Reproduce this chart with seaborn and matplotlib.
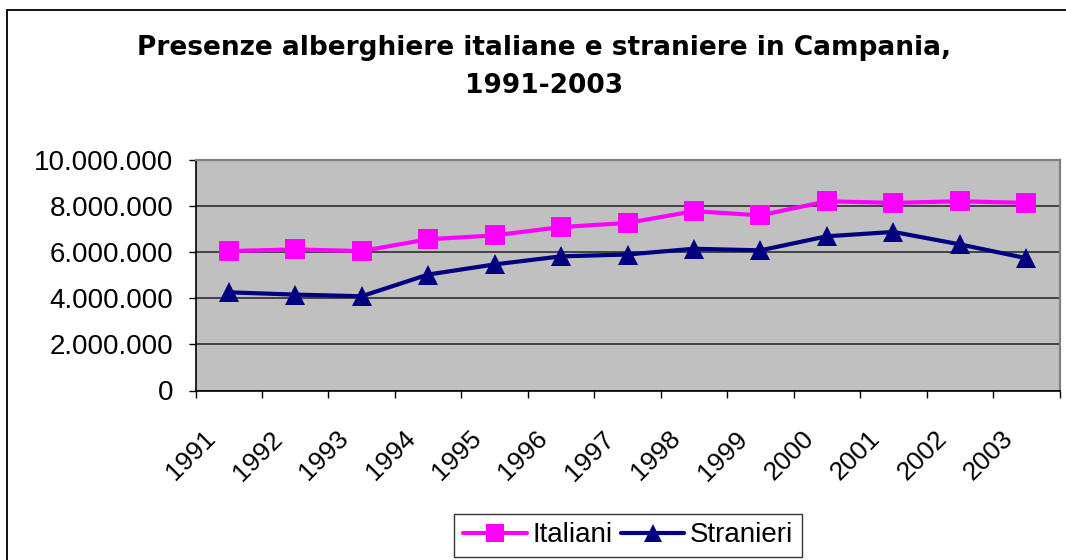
import numpy as np
import pandas as pd
import matplotlib
matplotlib.use("Agg")
import matplotlib.pyplot as plt
import seaborn as sns
from matplotlib.ticker import FuncFormatter, FixedLocator, NullFormatter
from matplotlib.transforms import ScaledTranslation
from matplotlib.lines import Line2D
import matplotlib.patches as mpatches

years = ["1991", "1992", "1993", "1994", "1995", "1996", "1997",
         "1998", "1999", "2000", "2001", "2002", "2003"]
italiani = [6050000, 6120000, 6050000, 6560000, 6730000, 7090000, 7270000,
            7780000, 7600000, 8210000, 8140000, 8210000, 8140000]
stranieri = [4260000, 4160000, 4090000, 5030000, 5470000, 5820000, 5900000,
             6150000, 6080000, 6690000, 6880000, 6340000, 5740000]
series_names = ["Italiani", "Stranieri"]
colors = {"Italiani": "#FF00FF", "Stranieri": "#000080"}
markers = {"Italiani": "s", "Stranieri": "^"}
yticks = [0, 2000000, 4000000, 6000000, 8000000, 10000000]
title = "Presenze alberghiere italiane e straniere in Campania,\n1991-2003"

sns.set_theme(style="white")
plt.rcParams["font.family"] = ["Liberation Sans", "DejaVu Sans"]
plt.rcParams["text.color"] = "black"
plt.rcParams["xtick.color"] = "black"
plt.rcParams["ytick.color"] = "black"
plt.rcParams["xtick.labelcolor"] = "black"
plt.rcParams["ytick.labelcolor"] = "black"

W, H = 1066, 560
fig = plt.figure(figsize=(W / 100, H / 100), dpi=100)
fig.patch.set_facecolor("white")

# outer chart border
fig.add_artist(mpatches.Rectangle((7 / W, -0.05), 1.1, 1 - 10 / H + 0.05,
                                  transform=fig.transFigure, fill=False,
                                  edgecolor="black", lw=1.3))

left, right, top, bottom = 195.5, 1059.5, 160, 390.5
ax = fig.add_axes([left / W, 1 - bottom / H, (right - left) / W, (bottom - top) / H])
ax.set_facecolor("#C0C0C0")

n = len(years)
df = pd.DataFrame({
    "pos": list(range(n)) * 2,
    "value": italiani + stranieri,
    "serie": [series_names[0]] * n + [series_names[1]] * n,
})
sns.lineplot(data=df, x="pos", y="value", hue="serie", style="serie",
             palette=colors, markers=markers, dashes=False,
             markersize=14.5, linewidth=3.0, markeredgewidth=0,
             ax=ax, legend=False, zorder=3)

ax.set_xlim(-0.5, n - 0.5)
ax.set_ylim(0, 10000000)
ax.set_yticks(yticks)
ax.yaxis.set_major_formatter(FuncFormatter(lambda v, p: f"{int(v):,}".replace(",", ".")))
ax.yaxis.grid(True, color="#202020", lw=1.1, zorder=1)
ax.set_axisbelow(True)
ax.set_xlabel("")
ax.set_ylabel("")

ax.xaxis.set_major_locator(FixedLocator(np.arange(-0.5, n, 1.0)))
ax.xaxis.set_major_formatter(NullFormatter())
ax.set_xticks(np.arange(n), labels=years, minor=True)
ax.tick_params(axis="x", which="major", direction="out", length=5, width=1, color="black", bottom=True)
ax.tick_params(axis="x", which="minor", length=0, pad=32, labelsize=19, bottom=True)
ax.tick_params(axis="y", which="major", direction="out", length=5, width=1, color="black",
               pad=11, labelsize=20, left=True)
for lab in ax.get_xticklabels(minor=True):
    lab.set_rotation(45)
    lab.set_ha("right")
    lab.set_va("center")
    lab.set_rotation_mode("anchor")
    lab.set_transform(lab.get_transform() + ScaledTranslation(-0.17, 0, fig.dpi_scale_trans))

for s in ["left", "bottom"]:
    ax.spines[s].set_color("black")
    ax.spines[s].set_linewidth(1.2)
for s in ["top", "right"]:
    ax.spines[s].set_color("#808080")
    ax.spines[s].set_linewidth(1.6)

fig.text(544 / W, 1 - 67 / H, title, ha="center", va="center", fontsize=19,
         fontweight="bold", family="DejaVu Sans", linespacing=1.62, color="black")

handles = [Line2D([], [], color=colors[s], marker=markers[s], markersize=13,
                  markeredgewidth=0, lw=3) for s in series_names]
leg = fig.legend(handles, series_names, loc="upper center",
                 bbox_to_anchor=(628 / W, 1 - 514 / H), ncol=2, frameon=True,
                 fancybox=False, edgecolor="black", fontsize=20,
                 handlelength=2.3, handletextpad=0.2, columnspacing=0.3,
                 borderpad=0.3, borderaxespad=0)
leg.get_frame().set_linewidth(1.0)

fig.savefig("out.png", dpi=100)
